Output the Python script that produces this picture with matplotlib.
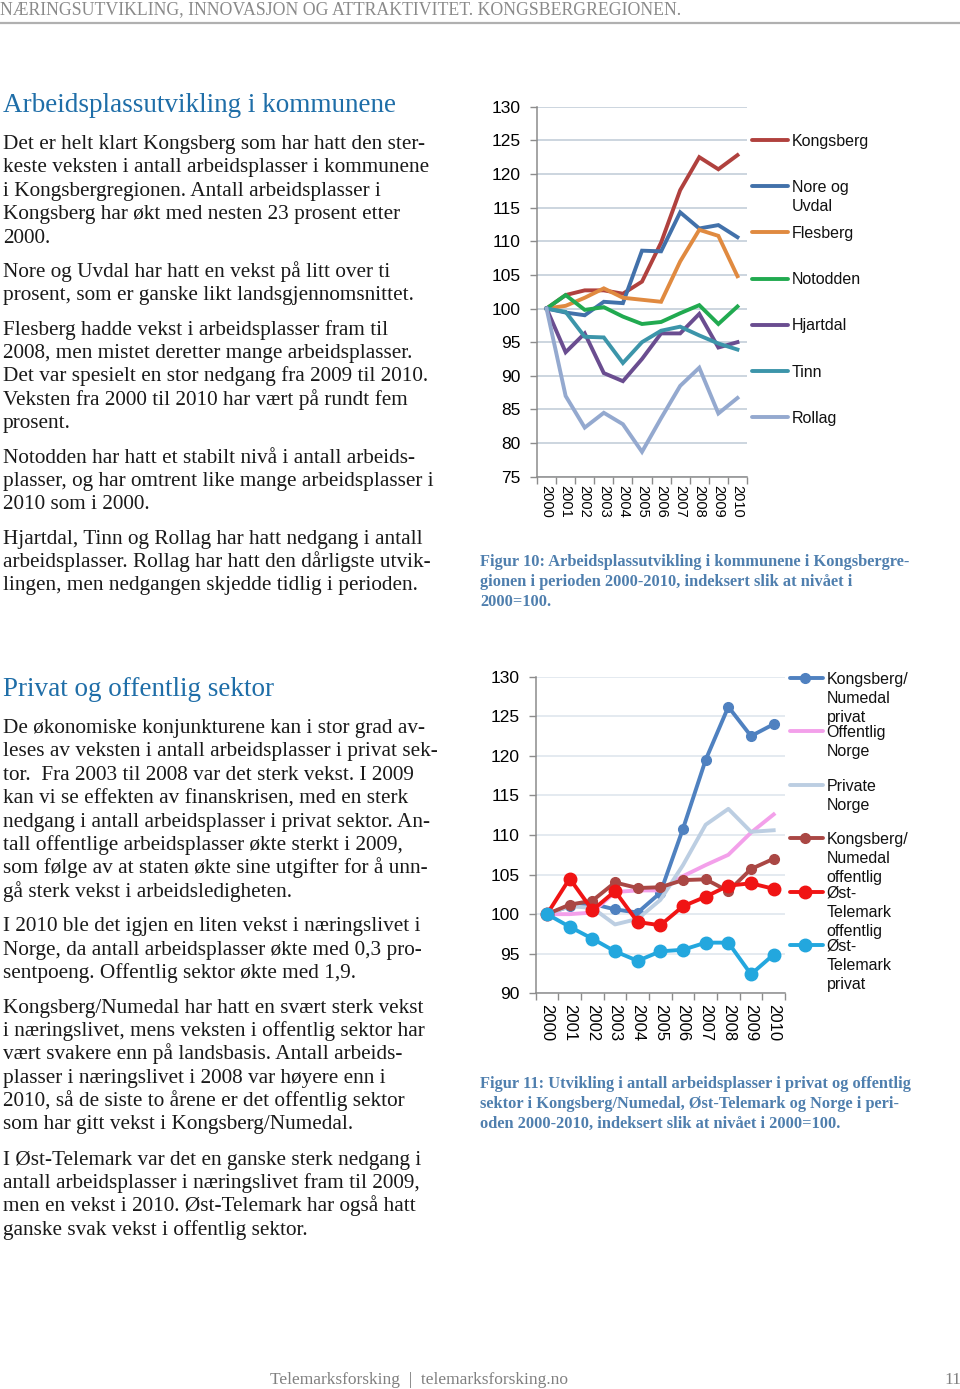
import matplotlib.pyplot as plt
from matplotlib.lines import Line2D

W, H = 960, 1389

# ---- data ----
years = [str(y) for y in range(2000, 2011)]

# Figur 10: kommunene, 2000=100
kongsberg = [100, 102.0, 102.7, 102.7, 102.2, 104.0, 109.8, 117.6, 122.5, 120.7, 122.8]
nore_uvdal = [100, 99.4, 99.0, 101.0, 100.8, 108.6, 108.5, 114.3, 111.9, 112.4, 110.6]
flesberg = [100, 100.4, 101.6, 103.0, 101.6, 101.3, 101.0, 107.0, 111.7, 110.8, 104.8]
notodden = [100, 102.0, 99.8, 100.2, 98.8, 97.7, 98.0, 99.3, 100.5, 97.7, 100.3]
hjartdal = [100, 93.5, 96.3, 90.4, 89.2, 92.5, 96.3, 96.3, 99.2, 94.2, 95.0]
tinn = [100, 99.5, 95.8, 95.7, 91.9, 95.0, 96.7, 97.3, 96.0, 94.8, 93.9]
rollag = [100, 87.0, 82.3, 84.5, 82.8, 78.7, 83.7, 88.5, 91.2, 84.4, 86.7]

# Figur 11: privat / offentlig sektor, 2000=100
kn_privat = [100, 101.0, 101.3, 100.6, 100.2, 102.7, 110.8, 119.5, 126.2, 122.5, 124.0]
off_norge = [100, 100.0, 100.2, 102.8, 103.0, 103.0, 104.8, 106.2, 107.5, 110.3, 112.6]
priv_norge = [100, 101.0, 100.8, 98.7, 99.4, 101.8, 106.2, 111.3, 113.3, 110.4, 110.6]
kn_offentlig = [100, 101.2, 101.7, 104.0, 103.3, 103.4, 104.3, 104.4, 102.9, 105.7, 107.0]
ot_offentlig = [100, 104.5, 100.5, 102.9, 99.0, 98.6, 101.0, 102.2, 103.6, 103.9, 103.2]
ot_privat = [100, 98.4, 96.9, 95.3, 94.1, 95.3, 95.5, 96.4, 96.4, 92.4, 94.9]

fig = plt.figure(figsize=(9.6, 13.89), dpi=100)

SERIF = 'Liberation Serif'
SANS = 'Liberation Sans'
BLUE_HEAD = '#1f6ea8'
CAP_BLUE = '#4f7fae'


def px_ax(x0, y0, x1, y1):
    return fig.add_axes([x0 / W, 1 - y1 / H, (x1 - x0) / W, (y1 - y0) / H])


def txt(x, y, s, **kw):
    fig.text(x / W, 1 - y / H, s, **kw)


def para(x, y, lines, step=23.4, **kw):
    for i, s in enumerate(lines):
        txt(x, y + i * step, s, va='baseline', **kw)


# ---- page header / footer ----
txt(0, 14, 'NÆRINGSUTVIKLING, INNOVASJON OG ATTRAKTIVITET. KONGSBERGREGIONEN.',
    fontsize=12.8, family=SERIF, color='#8a8a8a', va='baseline')
fig.add_artist(Line2D([0, 1], [1 - 22.5 / H] * 2, transform=fig.transFigure,
                      color='#b0b0b0', lw=1.6))
txt(270, 1384, 'Telemarksforsking  |  telemarksforsking.no', fontsize=12.5,
    family=SERIF, color='#808080', va='baseline')
txt(944, 1384, '11', fontsize=12.5, family=SERIF, color='#808080', va='baseline')

# ---- body text ----
body = dict(fontsize=15.3, family=SERIF, color='#1a1a1a')
txt(3, 112, 'Arbeidsplassutvikling i kommunene', fontsize=19.5, family=SERIF,
    color=BLUE_HEAD, va='baseline')
para(3, 149, ['Det er helt klart Kongsberg som har hatt den ster-',
              'keste veksten i antall arbeidsplasser i kommunene',
              'i Kongsbergregionen. Antall arbeidsplasser i',
              'Kongsberg har økt med nesten 23 prosent etter',
              '2000.'], **body)
para(3, 276.5, ['Nore og Uvdal har hatt en vekst på litt over ti',
                'prosent, som er ganske likt landsgjennomsnittet.'], **body)
para(3, 334.5, ['Flesberg hadde vekst i arbeidsplasser fram til',
                '2008, men mistet deretter mange arbeidsplasser.',
                'Det var spesielt en stor nedgang fra 2009 til 2010.',
                'Veksten fra 2000 til 2010 har vært på rundt fem',
                'prosent.'], **body)
para(3, 462.5, ['Notodden har hatt et stabilt nivå i antall arbeids-',
                'plasser, og har omtrent like mange arbeidsplasser i',
                '2010 som i 2000.'], **body)
para(3, 543.5, ['Hjartdal, Tinn og Rollag har hatt nedgang i antall',
                'arbeidsplasser. Rollag har hatt den dårligste utvik-',
                'lingen, men nedgangen skjedde tidlig i perioden.'], **body)

txt(3, 696, 'Privat og offentlig sektor', fontsize=19.5, family=SERIF,
    color=BLUE_HEAD, va='baseline')
para(3, 733, ['De økonomiske konjunkturene kan i stor grad av-',
              'leses av veksten i antall arbeidsplasser i privat sek-',
              'tor.  Fra 2003 til 2008 var det sterk vekst. I 2009',
              'kan vi se effekten av finanskrisen, med en sterk',
              'nedgang i antall arbeidsplasser i privat sektor. An-',
              'tall offentlige arbeidsplasser økte sterkt i 2009,',
              'som følge av at staten økte sine utgifter for å unn-',
              'gå sterk vekst i arbeidsledigheten.'], **body)
para(3, 931.5, ['I 2010 ble det igjen en liten vekst i næringslivet i',
                'Norge, da antall arbeidsplasser økte med 0,3 pro-',
                'sentpoeng. Offentlig sektor økte med 1,9.'], **body)
para(3, 1012.5, ['Kongsberg/Numedal har hatt en svært sterk vekst',
                 'i næringslivet, mens veksten i offentlig sektor har',
                 'vært svakere enn på landsbasis. Antall arbeids-',
                 'plasser i næringslivet i 2008 var høyere enn i',
                 '2010, så de siste to årene er det offentlig sektor',
                 'som har gitt vekst i Kongsberg/Numedal.'], **body)
para(3, 1164.5, ['I Øst-Telemark var det en ganske sterk nedgang i',
                 'antall arbeidsplasser i næringslivet fram til 2009,',
                 'men en vekst i 2010. Øst-Telemark har også hatt',
                 'ganske svak vekst i offentlig sektor.'], **body)

# ---- captions ----
cap = dict(fontsize=11.8, family=SERIF, color=CAP_BLUE, fontweight='bold')
para(480, 566, ['Figur 10: Arbeidsplassutvikling i kommunene i Kongsbergre-',
                'gionen i perioden 2000-2010, indeksert slik at nivået i',
                '2000=100.'], step=19.8, **cap)
para(480, 1088, ['Figur 11: Utvikling i antall arbeidsplasser i privat og offentlig',
                 'sektor i Kongsberg/Numedal, Øst-Telemark og Norge i peri-',
                 'oden 2000-2010, indeksert slik at nivået i 2000=100.'],
     step=19.8, **cap)


def style_axis(ax, ylim, yticks, grid_color, xfs, ypad, xpad):
    x = range(len(years))
    ax.set_xlim(-0.5, len(years) - 0.5)
    ax.set_ylim(*ylim)
    ax.set_yticks(yticks)
    ax.set_xticks(list(x))
    ax.set_xticklabels(years, rotation=-90, fontsize=xfs, family=SANS)
    ax.set_xticks([i - 0.5 for i in range(len(years) + 1)], minor=True)
    ax.tick_params(axis='x', which='major', length=0, pad=xpad)
    ax.tick_params(axis='x', which='minor', length=5, color='#8c8c8c', width=1)
    ax.tick_params(axis='y', length=5, color='#8c8c8c', width=1, pad=ypad,
                   labelsize=12.5)
    for lab in ax.get_yticklabels():
        lab.set_family(SANS)
    ax.yaxis.grid(True, color=grid_color, lw=1.1)
    ax.set_axisbelow(True)
    for s in ('top', 'right'):
        ax.spines[s].set_visible(False)
    for s in ('left', 'bottom'):
        ax.spines[s].set_color('#8c8c8c')
        ax.spines[s].set_linewidth(1.1)


def legend_entry(x0, x1, xt, yc, lines, color, marker=None, ms=0, lw=2.8):
    yf = 1 - yc / H
    fig.add_artist(Line2D([x0 / W, x1 / W], [yf, yf], transform=fig.transFigure,
                          color=color, lw=lw, solid_capstyle='round'))
    if marker:
        fig.add_artist(Line2D([(x0 + x1) / 2 / W - 0.0015], [yf], transform=fig.transFigure,
                              color=color, marker=marker, ms=ms, lw=0))
    for i, s in enumerate(lines):
        txt(xt, yc + 5.6 + i * 19.0, s, fontsize=11.5, family=SANS,
            color='#111111', va='baseline')


# ---- Figur 10 ----
ax1 = px_ax(537, 106.7, 747, 476.7)
style_axis(ax1, (75, 130), range(75, 131, 5), '#bfcad6', 10.5, 7, 6)
series1 = [
    (kongsberg, '#b0413e', ['Kongsberg']),
    (nore_uvdal, '#4271aa', ['Nore og', 'Uvdal']),
    (flesberg, '#e08a40', ['Flesberg']),
    (notodden, '#21aa50', ['Notodden']),
    (hjartdal, '#6a4d90', ['Hjartdal']),
    (tinn, '#3c95aa', ['Tinn']),
    (rollag, '#94a9cf', ['Rollag']),
]
for i, (vals, col, lab) in enumerate(series1):
    ax1.plot(range(len(years)), vals, color=col, lw=2.8, solid_joinstyle='miter')
    legend_entry(752, 788, 791.5, 140 + i * 46.2, lab, col)

# ---- Figur 11 ----
ax2 = px_ax(535.7, 676.7, 785, 993.3)
style_axis(ax2, (90, 130), range(90, 131, 5), '#dde4ec', 12, 6.5, 8)
series2 = [
    (kn_privat, '#4f81c0', 'o', 7, ['Kongsberg/', 'Numedal', 'privat']),
    (off_norge, '#f3a0ea', None, 0, ['Offentlig', 'Norge']),
    (priv_norge, '#bccee2', None, 0, ['Private', 'Norge']),
    (kn_offentlig, '#aa4744', 'o', 7, ['Kongsberg/', 'Numedal', 'offentlig']),
    (ot_offentlig, '#f01414', 'o', 9, ['Øst-', 'Telemark', 'offentlig']),
    (ot_privat, '#23a7de', 'o', 9, ['Øst-', 'Telemark', 'privat']),
]
legend_y2 = [678, 731, 785, 838, 892, 945]
for (vals, col, mk, ms, lab), yl in zip(series2, legend_y2):
    ax2.plot(range(len(years)), vals, color=col, lw=2.8, marker=mk, ms=ms)
    legend_entry(790, 823, 826.5, yl, lab, col, marker=mk, ms=ms)

fig.savefig('out.png', dpi=100)
